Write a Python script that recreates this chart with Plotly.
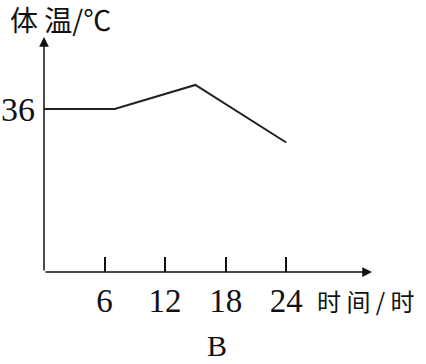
import plotly.graph_objects as go

# Data
time_h = [0, 7, 15, 24]
temp_c = [36, 36, 37, 34.6]
x_ticks = [6, 12, 18, 24]
x_tick_labels = ["6", "12", "18", "24"]
y_ticks = [36]
y_tick_labels = ["36"]

X_MAX = 32.5
Y_MIN, Y_MAX = 29.2, 39.0

L, R, T, B = 44, 54, 37, 92
W, H = 426, 364
PW, PH = W - L - R, H - T - B

def px(xp):
    return (xp - L) / PW

def py(yp):
    return (H - B - yp) / PH

serif = "Liberation Serif, Times New Roman, serif"
cjk = "Noto Sans CJK SC, sans-serif"

fig = go.Figure()
fig.add_trace(go.Scatter(x=time_h, y=temp_c, mode="lines",
                         line=dict(color="#222222", width=2), hoverinfo="skip",
                         showlegend=False, cliponaxis=False))

fig.update_layout(
    width=W, height=H,
    margin=dict(l=L, r=R, t=T, b=B, pad=0, autoexpand=False),
    paper_bgcolor="white", plot_bgcolor="white",
    xaxis=dict(range=[0, X_MAX], showgrid=False, zeroline=False, showline=False,
               automargin=False,
               tickvals=x_ticks, ticktext=x_tick_labels, ticks="inside",
               ticklen=15, tickwidth=1.5, tickcolor="#111",
               tickfont=dict(family=serif, size=33, color="#111"),
               ticklabelstandoff=6),
    yaxis=dict(range=[Y_MIN, Y_MAX], showgrid=False, zeroline=False, showline=False,
               automargin=False,
               tickvals=y_ticks, ticktext=y_tick_labels, ticks="",
               tickfont=dict(family=serif, size=34, color="#111"),
               ticklabelstandoff=8),
    annotations=[
        dict(x=X_MAX, y=Y_MIN, ax=0, ay=Y_MIN, xref="x", yref="y", axref="x", ayref="y",
             showarrow=True, arrowhead=2, arrowsize=1.3, arrowwidth=1.5,
             arrowcolor="#111", text=""),
        dict(x=0, y=Y_MAX, ax=0, ay=Y_MIN, xref="x", yref="y", axref="x", ayref="y",
             showarrow=True, arrowhead=2, arrowsize=1.3, arrowwidth=1.5,
             arrowcolor="#111", text=""),
        dict(x=px(8), y=py(19), xref="paper", yref="paper", xanchor="left", yanchor="middle",
             text="体 温/℃", showarrow=False, font=dict(family=cjk, size=28, color="#111")),
        dict(x=px(315), y=py(300), xref="paper", yref="paper", xanchor="left", yanchor="middle",
             text="时 间 / 时", showarrow=False, font=dict(family=cjk, size=24, color="#111")),
        dict(x=px(217), y=py(345), xref="paper", yref="paper", xanchor="center", yanchor="middle",
             text="B", showarrow=False, font=dict(family=serif, size=30, color="#111")),
    ],
)

fig.write_html("out.html")
